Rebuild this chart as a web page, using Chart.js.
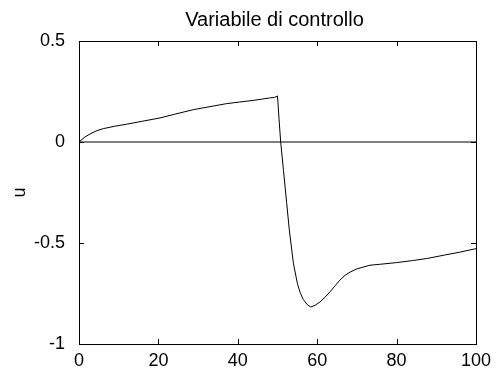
<!DOCTYPE html>
<html>
<head>
<meta charset="utf-8">
<script src="https://cdn.jsdelivr.net/npm/chart.js@4.4.1/dist/chart.umd.min.js"></script>
<style>
  html, body { margin: 0; padding: 0; background: #fff; }
  canvas { display: block; }
</style>
</head>
<body>
<canvas id="myChart" width="496" height="372"></canvas>
<script>
// time axis (t) and control signal u
const times = [0, 1.5, 3, 4.5, 6.1, 9, 12, 16, 20.4, 24, 28.8, 33, 37.2, 40.5, 43.9, 45.6, 48, 49.3, 50,
  50.4, 50.8, 51.5, 52.3, 53, 54, 55, 55.7, 56.5, 57.5, 58.4, 59.5, 60.7, 62, 63.2, 64.5, 65.7, 67,
  68.3, 70, 73.3, 76, 80, 84, 87.6, 92, 96, 100]
const u = [0, 0.025, 0.042, 0.056, 0.066, 0.078, 0.088, 0.103, 0.119, 0.137, 0.16, 0.175, 0.19, 0.198,
  0.206, 0.211, 0.218, 0.221, 0.228,
  0.11, 0, -0.14, -0.3, -0.44, -0.6, -0.7, -0.745, -0.78, -0.805, -0.817, -0.808, -0.792, -0.768,
  -0.742, -0.712, -0.684, -0.66, -0.644, -0.628, -0.61, -0.605, -0.597, -0.587, -0.577, -0.56,
  -0.545, -0.528]

// zero reference line
const refTimes = [0, 100]
const refValues = [0, 0]

const xTicks = [0, 20, 40, 60, 80, 100]
const yTicks = [-1, -0.5, 0, 0.5]
const title = 'Variabile di controllo'

const FONT = '"Liberation Sans", Arial, sans-serif'
Chart.defaults.font.family = FONT
Chart.defaults.font.size = 18
Chart.defaults.color = '#000'

// box round the plot with inward tick marks, matlab style, title over the axes
const boxPlugin = {
  id: 'box',
  afterDraw(chart) {
    const {ctx, chartArea: a, scales} = chart
    const tl = 5
    ctx.save()
    ctx.strokeStyle = '#000'
    ctx.lineWidth = 1
    ctx.strokeRect(Math.round(a.left) + 0.5, Math.round(a.top) + 0.5,
      Math.round(a.right - a.left), Math.round(a.bottom - a.top))
    ctx.beginPath()
    xTicks.forEach(v => {
      const px = Math.round(scales.x.getPixelForValue(v)) + 0.5
      ctx.moveTo(px, a.bottom); ctx.lineTo(px, a.bottom - tl)
      ctx.moveTo(px, a.top); ctx.lineTo(px, a.top + tl)
    })
    yTicks.forEach(v => {
      const py = Math.round(scales.y.getPixelForValue(v)) + 0.5
      ctx.moveTo(a.left, py); ctx.lineTo(a.left + tl, py)
      ctx.moveTo(a.right, py); ctx.lineTo(a.right - tl, py)
    })
    ctx.stroke()

    ctx.fillStyle = '#000'
    ctx.font = '20px ' + FONT
    ctx.textAlign = 'center'
    ctx.textBaseline = 'alphabetic'
    ctx.fillText(title, (a.left + a.right) / 2 - 3, 26)
    ctx.restore()
  }
}

const config = {
  type: 'scatter',
  data: {
    datasets: [
      {
        data: times.map((t, i) => ({x: t, y: u[i]})),
        showLine: true,
        borderColor: '#000',
        borderWidth: 1,
        pointRadius: 0,
        tension: 0,
      },
      {
        data: refTimes.map((t, i) => ({x: t, y: refValues[i]})),
        showLine: true,
        borderColor: '#000',
        borderWidth: 1,
        pointRadius: 0,
      }
    ]
  },
  options: {
    responsive: false,
    animation: false,
    layout: {padding: {top: 41, right: 20}},
    scales: {
      x: {
        type: 'linear',
        min: 0,
        max: 100,
        grid: {display: false},
        border: {display: false},
        ticks: {stepSize: 20, padding: -2, maxRotation: 0},
        afterFit: s => { s.height = 28 },
      },
      y: {
        min: -1,
        max: 0.5,
        grid: {display: false},
        border: {display: false},
        ticks: {stepSize: 0.5, padding: 6, callback: v => String(v)},
        title: {display: true, text: 'u', padding: {top: 9, bottom: 0}},
        afterFit: s => { s.width = 79 },
      },
    },
    plugins: {
      legend: {display: false},
      tooltip: {enabled: false},
    },
  },
  plugins: [boxPlugin]
}

const myChart = new Chart(document.getElementById('myChart'), config)
</script>
</body>
</html>
